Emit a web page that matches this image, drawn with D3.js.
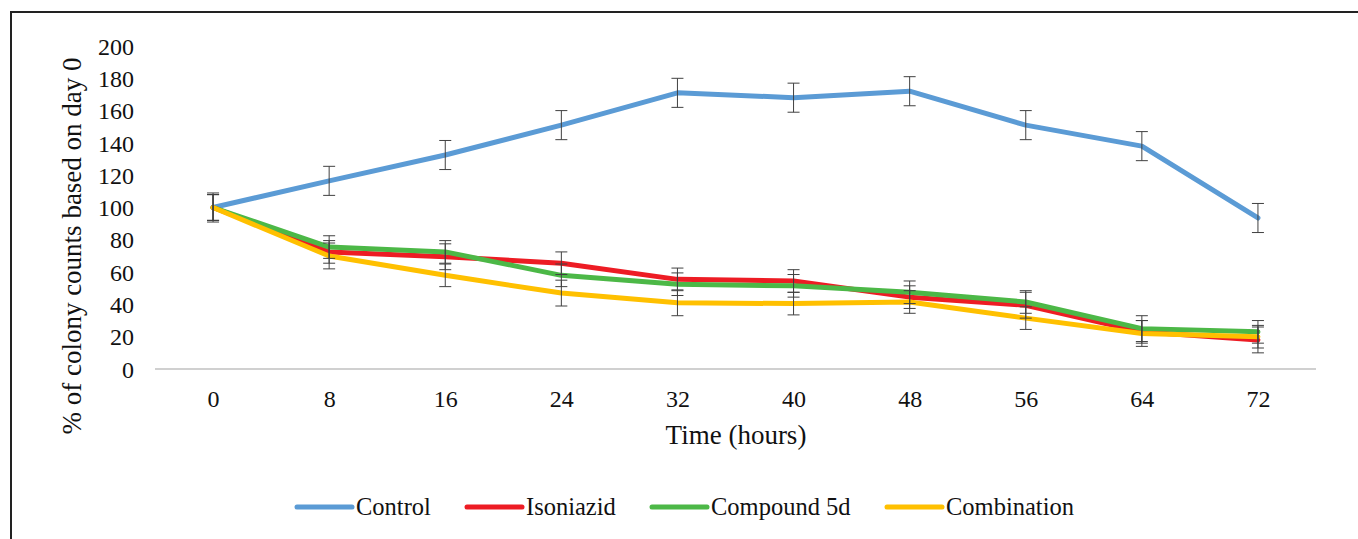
<!DOCTYPE html>
<html>
<head>
<meta charset="utf-8">
<script src="https://cdn.jsdelivr.net/npm/d3@7"></script>
<style>
body { margin: 0; background: #fff; }
svg { display: block; font-family: "Liberation Serif", "Times New Roman", serif; }
</style>
</head>
<body>
<script>
// data
var hours = ["0", "8", "16", "24", "32", "40", "48", "56", "64", "72"];
var yTicks = [0, 20, 40, 60, 80, 100, 120, 140, 160, 180, 200];
var seriesNames = ["Control", "Isoniazid", "Compound 5d", "Combination"];
var seriesColors = ["#5b9bd5", "#ed1c24", "#4cb847", "#ffc000"];

var control     = [100, 116.5, 132.5, 151, 171, 168, 172, 151, 138, 93.5];
var isoniazid   = [100, 72.5, 69.5, 65.5, 55.5, 54.5, 44.5, 39.5, 23, 18];
var compound5d  = [100, 75.5, 72.5, 58, 52.5, 51.5, 47.5, 41.5, 25, 23];
var combination = [100, 70, 58, 47, 41, 40.5, 41.5, 31.5, 22, 20];

var controlErr     = [9, 9, 9, 9, 9, 9, 9, 9, 9, 9];
var isoniazidErr   = [8, 7, 8, 7, 7, 7, 7, 8, 7, 8];
var compound5dErr  = [8, 7, 7, 7, 7, 7, 7, 7, 8, 7];
var combinationErr = [8, 8, 7, 8, 8, 7, 7, 7, 8, 7];

var values = [control, isoniazid, compound5d, combination];
var errors = [controlErr, isoniazidErr, compound5dErr, combinationErr];

var W = 1358, H = 539;
var svg = d3.select("body").append("svg").attr("width", W).attr("height", H);

// outer frame (runs off the right and bottom edges)
svg.append("rect")
  .attr("x", 11).attr("y", 12)
  .attr("width", 1500).attr("height", 700)
  .attr("fill", "none").attr("stroke", "#222").attr("stroke-width", 2);

var x = d3.scalePoint().domain(hours).range([155, 1316]).padding(0.5);
var y = d3.scaleLinear().domain([0, 200]).range([369, 46]);

// y axis labels only
var yAxis = svg.append("g").attr("transform", "translate(134,0)")
  .call(d3.axisLeft(y).tickValues(yTicks).tickSize(0).tickPadding(0));
yAxis.select(".domain").remove();
yAxis.selectAll("text").attr("font-size", 24).attr("fill", "#111")
  .attr("font-family", "Liberation Serif").attr("dy", "0.34em");

// x axis
var xAxis = svg.append("g").attr("transform", "translate(0,369)")
  .call(d3.axisBottom(x).tickSize(0).tickPadding(0));
xAxis.select(".domain").remove();
xAxis.selectAll("text").attr("font-size", 24).attr("fill", "#111")
  .attr("font-family", "Liberation Serif").attr("dy", 0).attr("y", 38);
svg.append("line")
  .attr("x1", 155).attr("x2", 1316).attr("y1", 369).attr("y2", 369)
  .attr("stroke", "#d0d0d0").attr("stroke-width", 2);

// axis titles
svg.append("text")
  .attr("transform", "translate(81,246) rotate(-90)")
  .attr("text-anchor", "middle").attr("font-size", 27).attr("fill", "#111")
  .text("% of colony counts based on day 0");
svg.append("text")
  .attr("x", 736).attr("y", 444)
  .attr("text-anchor", "middle").attr("font-size", 27).attr("fill", "#111")
  .text("Time (hours)");

// lines
var line = d3.line()
  .x(function(d, i) { return x(hours[i]); })
  .y(function(d) { return y(d); });

svg.selectAll("path.series")
  .data(values)
  .enter()
  .append("path")
  .attr("class", "series")
  .attr("d", line)
  .attr("fill", "none")
  .attr("stroke", function(d, i) { return seriesColors[i]; })
  .attr("stroke-width", 5)
  .attr("stroke-linejoin", "round")
  .attr("stroke-linecap", "round");

// error bars
var bars = [];
values.forEach(function(s, k) {
  s.forEach(function(v, i) {
    bars.push({ h: hours[i], v: v, e: errors[k][i] });
  });
});
var eb = svg.append("g").attr("stroke", "#404040").attr("stroke-width", 1);
bars.forEach(function(b) {
  var cx = x(b.h);
  eb.append("line").attr("x1", cx).attr("x2", cx)
    .attr("y1", y(b.v + b.e)).attr("y2", y(b.v - b.e));
  eb.append("line").attr("x1", cx - 6).attr("x2", cx + 6)
    .attr("y1", y(b.v + b.e)).attr("y2", y(b.v + b.e));
  eb.append("line").attr("x1", cx - 6).attr("x2", cx + 6)
    .attr("y1", y(b.v - b.e)).attr("y2", y(b.v - b.e));
});

// legend
var legX = [297, 467, 652, 887];
var leg = svg.selectAll("g.leg")
  .data(seriesNames)
  .enter()
  .append("g")
  .attr("class", "leg")
  .attr("transform", function(d, i) { return "translate(" + legX[i] + ",507)"; });
leg.append("line")
  .attr("x1", 0).attr("x2", 55).attr("y1", 0).attr("y2", 0)
  .attr("stroke", function(d, i) { return seriesColors[i]; })
  .attr("stroke-width", 5).attr("stroke-linecap", "round");
leg.append("text")
  .attr("x", 59).attr("y", 8)
  .attr("font-size", 24.5).attr("fill", "#111")
  .text(function(d) { return d; });
</script>
</body>
</html>
